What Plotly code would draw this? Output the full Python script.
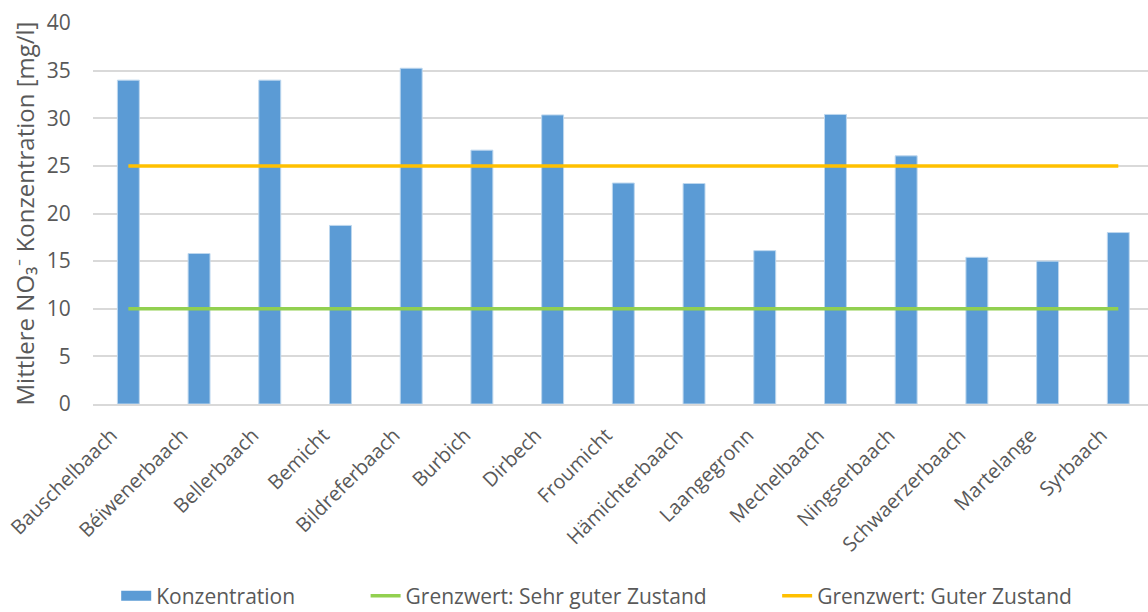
import plotly.graph_objects as go

categories = ["Bauschelbaach", "Béiwenerbaach", "Bellerbaach", "Bemicht", "Bildreferbaach",
              "Burbich", "Dirbech", "Froumicht", "Hämichterbaach", "Laangegronn",
              "Mechelbaach", "Ningserbaach", "Schwaerzerbaach", "Martelange", "Syrbaach"]
konzentration = [34.0, 15.8, 34.0, 18.75, 35.25, 26.65, 30.35, 23.2, 23.15, 16.1,
                 30.4, 26.05, 15.4, 15.0, 18.0]
grenz_sehr_gut = [10] * len(categories)
grenz_gut = [25] * len(categories)

FONT = "'Open Sans', Lato, sans-serif"
GRAY = "#595959"
PAD = "\u00a0" * 12

fig = go.Figure()
fig.add_trace(go.Bar(
    x=categories, y=konzentration, name="Konzentration", showlegend=False,
    marker=dict(color="#5B9BD5", line=dict(color="#BDD7EE", width=1)),
))
# legend entry for the bars drawn as a wide swatch
fig.add_trace(go.Scatter(
    x=[None], y=[None], name="Konzentration" + PAD, mode="lines",
    line=dict(color="#5B9BD5", width=13),
))
fig.add_trace(go.Scatter(
    x=categories, y=grenz_sehr_gut, name="Grenzwert: Sehr guter Zustand" + PAD,
    mode="lines", line=dict(color="#92D050", width=3.5),
))
fig.add_trace(go.Scatter(
    x=categories, y=grenz_gut, name="Grenzwert: Guter Zustand",
    mode="lines", line=dict(color="#FFC000", width=3.5),
))

fig.update_layout(
    width=1148, height=612,
    margin=dict(l=93, r=0, t=23, b=208, autoexpand=False),
    paper_bgcolor="white", plot_bgcolor="white",
    font=dict(family=FONT, color=GRAY, size=20),
    bargap=0.69,
    showlegend=True,
    legend=dict(orientation="h", x=0.022, xanchor="left", y=-0.5040, yanchor="middle",
                font=dict(size=21, color=GRAY), traceorder="normal",
                itemwidth=30, tracegroupgap=0),
    xaxis=dict(
        type="category", range=[-0.5, 14.42], automargin=False,
        tickangle=-45, tickfont=dict(size=20, color=GRAY),
        ticklabelshift=-17, ticklabelstandoff=10,
        showgrid=False, showline=True, linecolor="#D9D9D9", linewidth=1.5,
        ticks="", fixedrange=True,
    ),
    yaxis=dict(
        range=[0, 40], dtick=5, tickfont=dict(size=21, color=GRAY), automargin=False,
        showgrid=True, gridcolor="#D9D9D9", gridwidth=1.5,
        zeroline=False, showline=False,
        ticks="outside", ticklen=17, tickcolor="rgba(0,0,0,0)",
        title=dict(text="Mittlere NO₃⁻ Konzentration [mg/l]",
                   font=dict(size=24, color=GRAY), standoff=5),
    ),
)

fig.write_html("out.html")
